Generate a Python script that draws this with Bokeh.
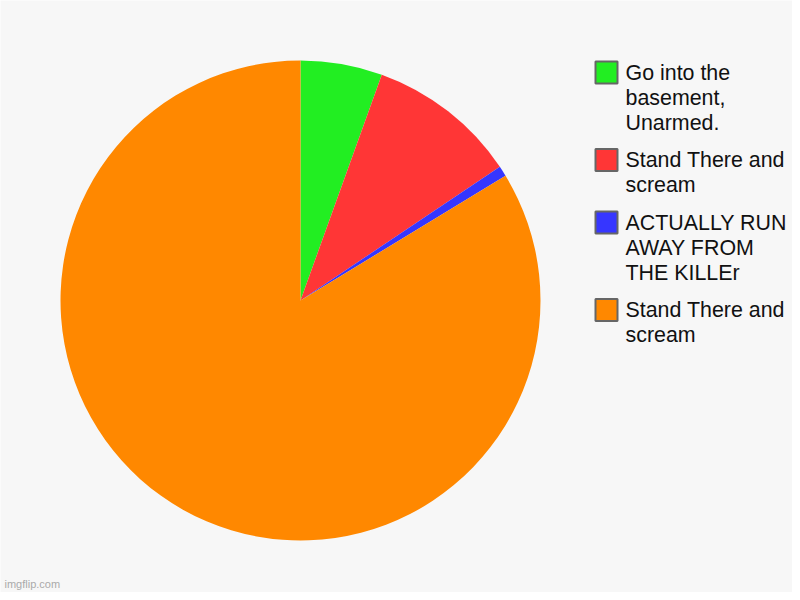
import numpy as np
from bokeh.plotting import figure
from bokeh.models import Range1d, ColumnDataSource
from bokeh.core.properties import value
from bokeh.embed import file_html
from bokeh.resources import INLINE

# ---- data ----
labels = [
    "Go into the\nbasement,\nUnarmed.",
    "Stand There and\nscream",
    "ACTUALLY RUN\nAWAY FROM\nTHE KILLEr",
    "Stand There and\nscream",
]
values = [5.5, 10.1, 0.7, 83.7]
colors = ["#22ee22", "#ff3636", "#3636ff", "#ff8800"]
watermark = "imgflip.com"

# ---- geometry (screen px -> data units, 1:1) ----
W, H = 792, 592


def dx(x):
    return x


def dy(y):
    return H - y


p = figure(width=W, height=H, x_range=Range1d(0, W), y_range=Range1d(0, H),
           x_axis_type=None, y_axis_type=None, toolbar_location=None,
           output_backend="svg", min_border=0)
p.background_fill_color = "#f7f7f7"
p.border_fill_color = "#f7f7f7"
p.outline_line_color = None
p.grid.visible = False

# ---- pie ----
vals = np.array(values, dtype=float)
cum = np.cumsum(vals) / vals.sum()
prev = np.concatenate([[0.0], cum[:-1]])
start = np.pi / 2 - 2 * np.pi * prev
end = np.pi / 2 - 2 * np.pi * cum
pie_src = ColumnDataSource(dict(start=start, end=end, color=colors))
p.wedge(x=dx(300), y=dy(300), radius=240, start_angle="start", end_angle="end",
        direction="clock", fill_color="color", line_color=None, source=pie_src)

# ---- legend ----
line_h = 25
gap = 12.5
top = 60.0
sq_x, sq_y, sq_c = [], [], []
tx, ty, tt = [], [], []
for lab, col in zip(labels, colors):
    lines = lab.split("\n")
    sq_x.append(dx(606))
    sq_y.append(dy(top + 12))
    sq_c.append(col)
    for i, ln in enumerate(lines):
        tx.append(dx(625))
        ty.append(dy(top + 12 + i * line_h))
        tt.append(ln)
    top += len(lines) * line_h + gap

p.rect(x=sq_x, y=sq_y, width=22, height=22, fill_color=sq_c,
       line_color="#666666", line_width=2)
p.text(x=tx, y=ty, text=tt, text_font=value("Liberation Sans"),
       text_font_size="21.4px", text_color="#111111",
       text_baseline="middle", text_align="left")

# ---- watermark ----
p.text(x=[dx(4)], y=[dy(583)], text=[watermark], text_font=value("Liberation Sans"),
       text_font_size="11px", text_color="#aaaaaa",
       text_baseline="alphabetic", text_align="left")

open("out.html", "w").write(file_html(p, INLINE))
